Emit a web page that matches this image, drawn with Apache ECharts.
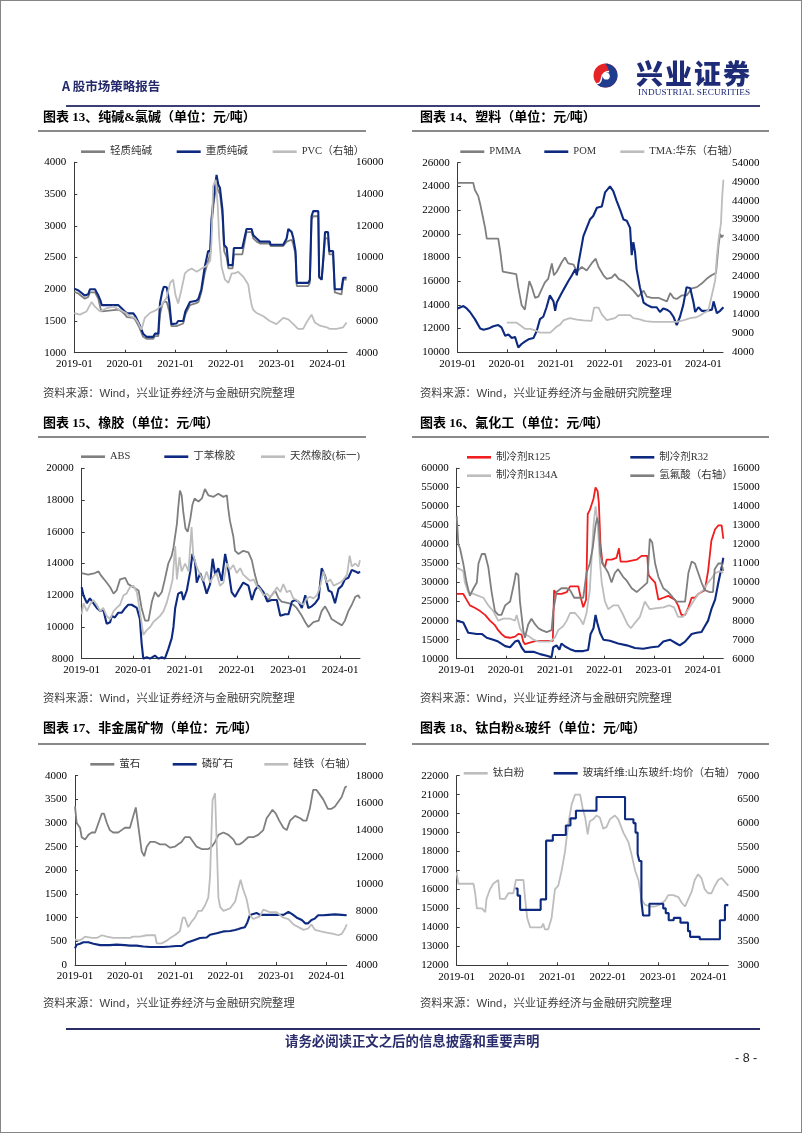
<!DOCTYPE html>
<html><head><meta charset="utf-8">
<script src="https://cdn.jsdelivr.net/npm/echarts@6/dist/echarts.min.js"></script>
<style>
html,body{margin:0;padding:0;background:#fff;}
#page{position:relative;width:802px;height:1133px;overflow:hidden;background:#fff;}
#chart{position:absolute;left:0;top:0;width:802px;height:1133px;}
#frame{position:absolute;left:0;top:0;width:800px;height:1131px;border:1px solid #858585;pointer-events:none;}
.t{position:absolute;white-space:nowrap;line-height:1;}
.title{font-family:"Liberation Serif","Noto Sans CJK SC",serif;font-weight:bold;font-size:13px;color:#000;}
.src{font-family:"Liberation Sans","Noto Sans CJK SC",sans-serif;font-size:11.3px;color:#404040;}
.rule{position:absolute;height:0;border-top:2px solid #8a8a8a;}
</style></head>
<body><div id="page">
<div id="chart"></div>
<div id="frame"></div>
<div class="t" style="left:62px;top:80px;font-family:'Noto Sans CJK SC';font-weight:bold;font-size:12.5px;color:#23296b;">A 股市场策略报告</div>
<svg style="position:absolute;left:593px;top:63px" width="25" height="25" viewBox="0 0 24 24">
 <circle cx="12" cy="12" r="11.5" fill="#e42427"/>
 <path d="M12 0.5 A11.5 11.5 0 0 1 12 23.5 A11.5 11.5 0 0 1 3.5 19.8 Q7.5 20 8.2 14.5 Q9 8.5 15.5 8.2 Q14 3.5 12 0.5 Z" fill="#1f3c8f"/>
 <path d="M3.5 19.8 Q7.5 20 8.2 14.5 Q9 8.5 15.5 8.2" fill="none" stroke="#fff" stroke-width="1.3"/>
 <circle cx="12.8" cy="12.6" r="3.3" fill="#fff"/>
</svg>
<div class="t" style="left:636px;top:59px;font-family:'Noto Sans CJK SC';font-weight:900;font-size:27px;letter-spacing:2px;color:#1e2b76;">兴业证券</div>
<div class="t" style="left:638px;top:87.5px;font-family:'Liberation Serif';font-size:9.2px;letter-spacing:0.15px;color:#1e2b76;">INDUSTRIAL SECURITIES</div>
<div class="rule" style="left:66px;top:105px;width:694px;border-top:2px solid #3c3f74;"></div>

<div class="t title" style="left:43px;top:110px;">图表 13、纯碱&amp;氯碱（单位：元/吨）</div>
<div class="t title" style="left:420px;top:110px;">图表 14、塑料（单位：元/吨）</div>
<div class="rule" style="left:38px;top:130px;width:328px;"></div>
<div class="rule" style="left:412px;top:130px;width:357px;"></div>
<div class="t src" style="left:43px;top:388px;">资料来源：Wind，兴业证券经济与金融研究院整理</div>
<div class="t src" style="left:420px;top:388px;">资料来源：Wind，兴业证券经济与金融研究院整理</div>

<div class="t title" style="left:43px;top:416px;">图表 15、橡胶（单位：元/吨）</div>
<div class="t title" style="left:420px;top:416px;">图表 16、氟化工（单位：元/吨）</div>
<div class="rule" style="left:38px;top:436px;width:328px;"></div>
<div class="rule" style="left:412px;top:436px;width:357px;"></div>
<div class="t src" style="left:43px;top:693px;">资料来源：Wind，兴业证券经济与金融研究院整理</div>
<div class="t src" style="left:420px;top:693px;">资料来源：Wind，兴业证券经济与金融研究院整理</div>

<div class="t title" style="left:43px;top:721px;">图表 17、非金属矿物（单位：元/吨）</div>
<div class="t title" style="left:420px;top:721px;">图表 18、钛白粉&amp;玻纤（单位：元/吨）</div>
<div class="rule" style="left:38px;top:743px;width:328px;"></div>
<div class="rule" style="left:412px;top:743px;width:357px;"></div>
<div class="t src" style="left:43px;top:998px;">资料来源：Wind，兴业证券经济与金融研究院整理</div>
<div class="t src" style="left:420px;top:998px;">资料来源：Wind，兴业证券经济与金融研究院整理</div>

<div class="rule" style="left:66px;top:1028px;width:694px;border-top:2px solid #2a2d66;"></div>
<div class="t" style="left:285px;top:1034px;font-family:'Noto Sans CJK SC';font-weight:bold;font-size:13.4px;color:#2b2e6c;">请务必阅读正文之后的信息披露和重要声明</div>
<div class="t" style="left:735px;top:1052px;font-family:'Liberation Sans Narrow','Liberation Sans';font-size:12.5px;color:#222;">- 8 -</div>
</div>
<script>
// ---- data: [months since 2019-01, value] ----
const xTickValues = [0,12,24,36,48,60];
const sodaLight = [[0,1960],[1,1930],[2.5,1850],[3.3,1880],[3.7,1950],[4.9,1950],[5.3,1900],[5.7,1850],[6.2,1700],[6.5,1650],[10.4,1680],[11.2,1650],[12,1600],[12.5,1560],[14,1550],[14.6,1500],[15.4,1400],[16,1300],[16.3,1250],[17.1,1220],[18.7,1220],[19.1,1260],[19.9,1260],[20.3,1600],[20.8,1750],[21.2,1800],[21.9,1800],[22.5,1650],[23,1420],[24.2,1420],[24.6,1450],[25.8,1460],[26.3,1600],[27.4,1750],[28.9,1780],[29.4,1800],[30.1,1950],[30.9,2250],[31.7,2450],[32.2,2550],[32.5,3000],[33.1,3400],[33.7,3650],[34.1,3550],[34.5,3500],[35.1,3150],[35.5,2600],[36.1,2500],[36.5,2330],[37.5,2330],[37.8,2550],[39.8,2550],[40.8,2900],[42,2900],[42.4,2800],[43.2,2750],[44,2720],[46.3,2720],[46.5,2680],[49.5,2680],[50.3,2750],[50.7,2750],[51.5,2780],[51.9,2700],[52.4,2550],[52.7,2050],[55.4,2050],[55.8,2100],[56.2,3100],[56.6,3150],[57.8,3150],[58,2180],[58.6,2150],[59,2450],[59.4,2800],[60.1,2800],[60.4,2550],[61.3,2550],[61.7,1950],[63.3,1920],[63.7,2150],[64.5,2150]];
const sodaHeavy = [[0,2010],[1,1980],[2.5,1900],[3.3,1920],[3.7,2000],[4.9,2000],[5.3,1950],[5.7,1900],[6.2,1820],[6.5,1750],[10.4,1750],[11.2,1700],[12,1650],[12.5,1620],[14,1620],[14.6,1560],[15.4,1450],[16,1350],[16.3,1300],[17.1,1250],[18.7,1250],[19.1,1300],[19.9,1300],[20.3,1780],[20.8,1950],[21.2,2040],[21.9,2030],[22.5,1800],[23,1450],[24.2,1460],[24.6,1500],[25.8,1500],[26.3,1650],[27.4,1800],[28.9,1820],[29.4,1850],[30.1,2000],[30.9,2350],[31.7,2600],[32.2,2600],[32.5,3100],[33.1,3500],[33.7,3800],[34.1,3650],[34.5,3600],[35.1,3250],[35.5,2700],[36.1,2650],[36.5,2380],[37.5,2380],[37.8,2650],[39.8,2650],[40.8,2950],[42,2950],[42.4,2850],[43.2,2800],[44,2750],[46.3,2750],[46.5,2700],[49.5,2700],[50.3,2800],[50.7,2950],[51.5,2900],[51.9,2800],[52.4,2600],[52.7,2100],[55.4,2100],[55.8,2150],[56.2,3150],[56.6,3230],[57.8,3230],[58,2200],[58.6,2150],[59,2500],[59.4,2900],[60.1,2900],[60.4,2600],[61.3,2600],[61.7,2000],[63.3,2000],[63.7,2180],[64.5,2180]];
const pvc = [[0,6500],[1.3,6400],[2.9,6600],[3.7,7000],[4.1,7200],[4.9,6900],[6.1,6600],[7.6,6800],[9.2,6900],[10.8,6700],[12.3,6500],[13.1,6300],[14.3,6200],[15.1,5900],[15.9,5450],[16.7,6200],[17.9,6500],[19.5,6700],[20.7,7000],[21.9,7500],[22.7,8400],[23.4,8600],[24,7600],[24.6,7100],[25.4,8000],[26.2,9000],[27,9200],[27.8,9300],[29,9100],[30.2,9300],[31.4,9500],[32.2,9800],[32.5,11000],[32.9,14500],[33.5,14900],[34,13200],[34.3,11300],[34.9,9400],[35.7,8600],[36.5,8400],[37.3,9000],[38,9000],[38.8,9100],[40,8800],[41.2,8300],[41.6,7600],[42,7000],[42.4,6700],[43.2,6500],[44.8,6300],[46.3,6000],[47.9,5800],[49.5,6200],[50.7,6100],[51.9,5800],[53,5500],[54.2,5500],[55,5900],[56.2,6400],[57,5900],[58.2,5700],[59.8,5600],[60.5,5500],[62.1,5500],[63.7,5600],[64.5,5900]];

const pmma = [[0,24300],[3.8,24300],[4.2,23700],[5,23200],[5.5,22500],[6.1,21500],[6.7,20500],[7.1,19600],[9.9,19600],[10.4,18500],[11,16800],[14.3,16600],[14.8,15500],[15.6,14000],[16.4,13600],[16.8,14500],[17.5,16000],[18.1,15500],[18.9,14600],[19.7,14700],[20.5,15300],[21.3,15900],[22.1,16200],[23,17500],[23.5,16500],[24.2,16800],[25.4,17600],[26.2,18000],[27,17500],[28.3,17400],[29.1,16800],[30.3,17200],[31.5,16900],[32.7,17500],[33.7,17900],[34.4,17200],[35.6,16500],[36.4,16200],[37.6,16300],[38.4,16600],[39.3,16200],[40.5,16000],[41.7,15600],[42.9,15200],[44.1,14700],[45.4,15200],[46.2,14700],[47.4,14600],[49,14600],[51.1,14300],[51.9,15000],[52.7,14600],[53.5,14500],[54.7,14800],[55.9,14800],[57.2,15400],[58.4,15500],[59.6,15800],[60.8,16200],[62,16500],[63.1,16700],[63.7,19000],[64.1,20000],[64.5,19700],[64.9,19900]];
const pom = [[0,13700],[1.4,13900],[2.2,13700],[3,13400],[4.2,12800],[5.5,12000],[6.3,11900],[7.5,12000],[8.7,12200],[9.9,12300],[10.7,12100],[11.6,11400],[12.4,11500],[13.2,11200],[14,11300],[14.8,10400],[15.6,10700],[16.4,10900],[17.3,11100],[18.5,11200],[19.3,11800],[20.1,12800],[20.9,13000],[21.7,13800],[22.5,14800],[23.4,14300],[23.8,13500],[24.2,14200],[25.4,15000],[26.2,15500],[27,16000],[27.9,16500],[28.7,17000],[29.1,16500],[29.5,17500],[30.7,19800],[31.5,20500],[32.3,21200],[33.1,21500],[34,22200],[35.2,22300],[36,23500],[37.2,24000],[38,23600],[38.8,22800],[39.7,22000],[40.5,21200],[41.3,21100],[42.1,20500],[42.5,18200],[42.9,19300],[43.3,18500],[43.7,17000],[44.5,15500],[45.4,14200],[46.2,14000],[47.4,13800],[48.6,13800],[49.4,13400],[50.2,13700],[51.1,13600],[51.9,13400],[52.7,13000],[53.5,12300],[54.3,13000],[55.1,14000],[55.9,15500],[56.8,15400],[57.6,14200],[58,13400],[58.8,13800],[59.6,13500],[60.8,13500],[62.1,13600],[62.5,14300],[62.9,13800],[63.3,13300],[64.1,13500],[64.9,13800]];
const tma = [[12,11800],[14.4,11800],[15.2,11200],[16.4,10200],[17.7,10200],[18.9,9800],[20.1,9200],[22.6,9200],[23.4,10000],[24.2,10800],[25,11300],[25.8,12400],[27.4,13000],[29.1,12600],[30.7,12400],[32.7,12300],[33.3,15800],[34.4,15800],[35.2,14000],[36.4,12500],[37.2,12700],[38.4,13000],[39.3,13800],[42.1,13800],[42.9,13000],[44.5,12700],[45.8,12200],[47.8,12000],[51.1,12000],[53.5,12000],[55.1,12400],[56.8,13000],[58.4,13300],[59.2,13700],[60,14300],[61.2,15000],[62,18700],[62.9,23000],[63.3,29200],[63.7,33600],[64.3,38000],[64.6,45000],[64.9,49500]];

const abs = [[0,13400],[1.5,13300],[3.1,13400],[3.9,13500],[4.6,13200],[5.8,12800],[6.6,12500],[7.4,12100],[8.1,12300],[8.9,13000],[10.1,13100],[10.8,12700],[12,12500],[13.2,12300],[13.9,11200],[14.7,10400],[15.5,10400],[16.3,11600],[17,12200],[17.8,11900],[18.6,12200],[19.3,13000],[20.1,14000],[20.9,14500],[21.3,15000],[22.1,16500],[22.4,17500],[22.8,18600],[23.2,18300],[23.6,17200],[24.1,16200],[24.6,16000],[25.2,16800],[25.7,17700],[26.2,18100],[27.1,17900],[27.9,18100],[28.6,18700],[29.4,18300],[30.6,18200],[31.7,18400],[32.9,18200],[33.7,18300],[34,17500],[34.4,16700],[35.2,15700],[35.6,14800],[36.4,14600],[37.5,14800],[38.7,14700],[39.5,14200],[40.2,13300],[41,12500],[42.2,12100],[43.3,11700],[44.9,12300],[45.7,11800],[46.4,11600],[48,11500],[49.1,11400],[49.9,11200],[51.1,10700],[51.9,10300],[52.6,10000],[53.8,10300],[55,10400],[55.7,11000],[56.5,11300],[57.3,10900],[58,10500],[59.2,10300],[60.4,10100],[61.1,10400],[61.9,11000],[62.7,11400],[63.5,11900],[64.2,12000],[64.6,11800]];
const sbr = [[0,12500],[0.4,12000],[1.2,11500],[1.9,11800],[2.7,11500],[3.5,11200],[4.3,11000],[5,11100],[5.8,10200],[6.6,10300],[7,10700],[7.7,10600],[8.5,10900],[9.3,10900],[10.1,11200],[10.8,11400],[11.6,11400],[12.8,11200],[13.5,10500],[13.9,9000],[14.3,8000],[15.1,8100],[15.9,8000],[17,8200],[17.8,8000],[18.6,8100],[19.3,8000],[20.1,8600],[20.9,9300],[21.3,10000],[21.7,11200],[22.4,12100],[23.2,12200],[23.6,11700],[24.4,12300],[25.2,13500],[25.7,14600],[26.3,14100],[26.7,12800],[27.5,13400],[28.3,12800],[29,12100],[29.8,12700],[30.4,14300],[31,13300],[31.7,13700],[32.5,12900],[33.3,14600],[34.1,13500],[34.8,12200],[35.6,11900],[36.4,12300],[37.5,12800],[38.7,12600],[39.5,11700],[40.2,12300],[41,12600],[42.2,12200],[43.1,11600],[44.1,11700],[45.3,11700],[46.1,10700],[47.2,10800],[48,10800],[48.8,11600],[49.5,11700],[50.3,11600],[51.1,11200],[51.9,12000],[52.6,11200],[53.4,11300],[54.2,11500],[55,11800],[55.7,13700],[56.5,13200],[57.3,12300],[58,12200],[58.8,11500],[59.6,12400],[60.4,12600],[61.1,13000],[61.9,13100],[62.7,13600],[63.5,13500],[64.2,13400],[64.6,13500]];
const naturalRubber = [[0,10800],[0.4,11500],[1.2,11000],[1.9,11400],[2.7,11700],[3.5,11400],[4.3,11000],[5,11200],[5.8,10700],[6.6,10500],[7.4,11000],[8.1,11200],[8.9,11400],[9.7,12000],[10.4,12100],[11.2,12500],[12,12600],[12.8,12200],[13.5,11000],[14.3,9500],[15.1,9800],[15.9,10000],[16.6,10300],[17.4,10500],[18.2,10700],[19,11000],[19.7,11500],[20.5,12300],[21.1,13000],[21.7,15100],[22.1,13000],[22.7,14400],[23.2,13500],[24,14000],[24.8,13500],[25.5,16300],[25.9,14500],[26.7,13800],[27.5,13300],[28.3,12900],[29,13500],[29.8,12800],[30.6,13200],[31.3,13400],[32.1,12600],[32.9,12800],[33.7,14000],[34.4,13600],[35.2,13900],[36,13400],[36.8,13700],[37.5,13300],[38.3,13100],[39.1,12900],[39.9,13000],[40.6,12600],[41.4,12400],[42.2,12000],[43,12100],[43.7,11900],[44.5,12100],[45.3,12500],[46.1,12200],[46.8,12700],[47.6,12200],[48.4,12300],[49.1,11800],[49.9,11700],[50.7,11500],[51.5,11400],[52.2,11800],[53,11900],[53.8,11800],[54.6,12000],[55.3,12500],[56.1,13500],[56.9,12800],[57.7,13000],[58.5,12600],[59.2,12700],[60,12800],[60.8,13000],[61.6,13300],[62.2,14500],[62.7,13800],[63.5,14000],[64.2,13800],[64.6,14200]];

const r125 = [[0,27000],[1.6,27000],[2.4,25500],[3.2,24000],[4.5,23300],[5.7,22500],[6.9,21500],[8.1,20000],[9.3,18800],[10.1,17500],[10.9,16500],[11.8,15700],[13,15500],[14.2,15800],[15,16500],[15.8,16300],[16.2,14500],[16.6,13800],[17.8,14200],[19.1,14600],[20.7,14700],[22.3,14700],[23.4,14700],[23.7,28000],[24.3,27000],[25.5,27000],[26.8,27500],[27.6,29000],[29.6,29000],[30.2,26000],[30.8,23500],[31.5,25500],[31.9,48000],[32.4,49000],[33.3,52000],[33.8,55000],[34.3,54000],[34.6,51000],[35,40000],[35.5,35000],[36.1,34000],[36.5,36000],[37.7,36000],[38.9,36500],[39.5,39000],[39.9,35500],[41.4,35500],[43.8,36000],[45,37000],[46.4,37000],[46.7,32000],[47.4,31000],[48.3,30000],[49.1,25500],[50.3,26000],[51.5,26500],[53.1,25500],[53.9,24000],[54.7,21500],[55.6,21500],[56.4,23500],[57.2,26000],[58,26000],[58.8,27000],[59.6,27500],[60.4,28000],[61.2,33000],[62,41000],[62.9,44000],[63.7,45000],[64.5,45000],[64.9,41500]];
const r32 = [[0,20000],[1.6,19500],[2.8,16800],[4.9,16500],[6.1,16500],[7.3,15500],[8.9,15000],[10.1,14500],[11.8,13300],[13,13000],[14.2,14500],[15,14800],[15.8,13000],[16.6,11800],[18.7,11800],[20.3,11200],[21.9,10800],[23.1,10400],[23.5,13000],[24.3,13500],[25,12400],[25.5,14000],[26.4,13200],[27.6,12500],[28.8,12000],[30.8,12000],[32,12300],[32.6,16500],[33.3,18000],[33.8,21500],[34.2,19500],[34.9,16800],[35.7,15000],[37.3,14700],[39.3,14000],[41.4,13500],[43.4,12800],[45.4,12600],[47.4,13000],[49.1,13200],[50.3,14500],[51.9,15000],[53.5,14000],[54.3,13500],[55.6,14500],[57.2,16500],[58.4,16800],[59.6,17000],[60.4,18500],[61.2,20000],[62,23000],[62.9,25500],[63.7,30000],[64.5,34000],[64.9,36500]];
const r134a = [[0,33800],[0.8,33500],[1.6,33000],[2,30000],[2.8,27500],[4.1,27000],[5.3,26500],[6.5,26000],[7.7,24000],[8.9,22500],[10.1,20000],[11.4,20500],[13,20500],[14.2,20000],[14.6,21500],[15.4,18000],[16.2,16500],[17.4,16000],[18.7,15000],[19.9,14500],[21.1,14500],[22.7,14500],[23.9,15500],[24.7,17500],[25.9,18500],[26.8,20000],[27.6,22000],[28.8,22000],[30,20500],[30.8,19000],[31.6,22000],[32.4,28000],[33.3,45000],[33.8,50000],[34.3,46000],[34.9,35000],[35.3,30000],[36.1,25000],[36.9,23000],[38.1,24000],[39.3,24000],[40.3,22000],[41.6,19000],[42.4,18000],[43.1,19000],[44.6,21000],[45.8,25000],[47,23000],[48.7,23300],[50.3,23500],[51.7,24000],[52.9,23500],[53.9,21000],[55.1,21000],[56.4,23000],[57.6,25000],[58.8,27000],[60,28000],[61.2,30000],[62,31000],[62.9,32500],[64.1,33000],[64.9,32500]];
const hf = [[0,13500],[0.4,12000],[0.8,11800],[1.6,11000],[2.4,10000],[3.2,9300],[4.1,9700],[4.9,10000],[5.3,11000],[6.1,11500],[6.9,11500],[7.7,10800],[8.5,9500],[9.3,8500],[10.1,8300],[10.9,8300],[11.8,8800],[13,9000],[14,10000],[14.4,10500],[15,10400],[15.4,9000],[16.2,7500],[16.6,7100],[17.4,7800],[18.2,8100],[19.1,7800],[19.9,7600],[20.7,7500],[21.9,7400],[23.1,7500],[23.5,8500],[24.3,9500],[25.5,9700],[26.8,9700],[27.6,9600],[28.6,9200],[30,9200],[30.8,9200],[31.6,10500],[32.4,11000],[33.1,11800],[33.8,13000],[34.2,13400],[34.6,13000],[35,11500],[35.5,11000],[36.1,10800],[36.9,10500],[37.7,10000],[38.5,10500],[39.3,10700],[40.5,10300],[41.4,10100],[42.6,9700],[43.8,9500],[45.4,9800],[46.4,10000],[47,12300],[47.6,12100],[48.3,11000],[49.1,10300],[50.3,9700],[51.5,9500],[52.7,9200],[53.5,9000],[55.6,9000],[56.4,10500],[57.2,11100],[58,11000],[58.8,10500],[59.6,10000],[60.4,9600],[61.6,9500],[62.4,9500],[62.8,10700],[63.7,11000],[64.5,11000],[64.9,10600]];

const fluorite = [[0,3350],[0.4,3000],[1.2,2900],[1.6,2700],[2.4,2650],[3.2,2750],[4,2800],[4.8,2800],[5.6,3000],[6.4,3200],[6.9,3200],[7.6,3000],[8.3,2850],[9.1,2800],[10.3,2800],[11.1,2850],[11.9,2900],[13.1,2900],[13.9,3150],[14.5,3330],[14.8,3300],[15.3,2800],[15.9,2400],[16.5,2300],[17.1,2500],[17.9,2600],[19.1,2600],[20.3,2550],[21.5,2550],[22.7,2480],[23.8,2500],[24.6,2550],[25.4,2600],[26.2,2700],[27.4,2700],[28.2,2600],[29,2500],[30.2,2450],[31.8,2450],[32.6,2500],[33.4,2600],[34.2,2750],[35.4,2800],[36.6,2750],[37.8,2650],[38.4,2550],[39.3,2550],[40.1,2600],[41.3,2700],[42.5,2700],[43.7,2750],[44.9,2850],[45.7,3100],[46.5,3200],[47.1,3280],[47.9,3200],[48.7,3050],[49.7,2900],[50.5,2850],[51.3,3050],[52.5,3150],[53.7,3100],[54.5,3050],[55.2,3050],[56,3300],[56.8,3700],[57.6,3700],[58.4,3600],[59.2,3500],[60.3,3300],[61.2,3300],[62,3350],[62.8,3450],[63.6,3550],[64.4,3750],[64.8,3780]];
const phosphate = [[0,350],[0.4,430],[1.2,450],[2,480],[3.2,480],[4.4,450],[6,420],[8.3,420],[9.9,430],[11.9,420],[13.1,410],[14.7,410],[16.3,390],[17.9,380],[19.5,380],[21.1,380],[22.7,390],[24.2,400],[25.4,400],[26.6,470],[28.2,520],[29.8,570],[31.4,580],[32.2,640],[33.8,670],[35.4,710],[37,720],[38.2,740],[39,760],[39.7,780],[40.5,800],[41.1,900],[41.7,1050],[42.5,1080],[43.3,1100],[44.1,1060],[44.9,1060],[46.5,1060],[48.1,1060],[49.7,1060],[50.9,1120],[51.7,1080],[52.9,1000],[54.1,950],[54.9,880],[55.6,880],[56.4,950],[57.2,980],[58,1050],[59.2,1050],[60.4,1060],[62,1070],[63.6,1060],[64.8,1050]];
const ferrosilicon = [[0,5900],[0.8,5800],[1.6,5900],[2.4,6100],[4,6000],[5.2,6000],[6.4,6200],[7.6,6100],[9.1,6000],[11.5,6000],[13.1,6000],[13.9,6100],[15.5,6100],[17.1,6200],[19.1,6200],[19.5,5600],[20.7,5600],[21.9,5800],[22.7,6000],[23.8,6200],[25,6500],[25.7,7500],[26.2,7500],[27,6800],[27.8,7200],[28.6,7500],[29.4,8000],[30.2,8000],[31,8400],[31.8,9000],[32.2,10500],[32.8,16200],[33.4,16700],[33.8,13000],[34.2,9000],[34.6,8300],[35.4,8000],[36.2,8100],[37,8200],[37.4,8200],[38.2,8700],[38.9,9600],[39.5,10300],[40.1,9600],[40.9,8900],[41.7,7700],[42.5,7400],[43.3,7500],[44.1,7600],[44.9,8100],[45.7,8000],[46.5,7900],[48.1,7900],[49.7,7500],[50.9,7400],[52.1,7000],[53.3,6800],[54.5,6600],[55.6,6700],[56.4,7000],[57.2,6600],[58.4,6500],[60,6400],[61.6,6300],[62.8,6200],[63.6,6300],[64.4,6700],[64.8,7000]];

const tio2 = [[0,16900],[0.4,16300],[1.6,16300],[4,16300],[4.4,15800],[4.8,15000],[6,15000],[6.8,14800],[7.1,15500],[7.9,16000],[8.7,16300],[9.9,16500],[10.3,15500],[11.5,15500],[12.3,15800],[13.5,15800],[14.1,16500],[15.9,16500],[16.3,15500],[16.8,14500],[17.5,14000],[19,14000],[20.2,14000],[20.6,14200],[21,13900],[21.8,13900],[22.6,14500],[23.4,16000],[24.2,16200],[25,17000],[25.8,18000],[26.6,19500],[27.4,20500],[28.2,21000],[29.4,21000],[30,20300],[30.6,19800],[31.2,18900],[31.7,19600],[32.5,19700],[33.3,19900],[34.1,19800],[34.9,19200],[35.7,19300],[36.5,19700],[37.7,19900],[38.5,19700],[39.7,19000],[40.9,18500],[41.7,17800],[42.5,17000],[43.3,16500],[44,15500],[44.8,15200],[46,15100],[47.2,15100],[48.4,15200],[49.6,15400],[50.4,15700],[51.6,15700],[52.8,15600],[53.6,15300],[54.4,15100],[55.2,15500],[56,15900],[56.7,16500],[57.5,16800],[58.3,16600],[59.1,16000],[59.9,15800],[60.7,15800],[61.5,16200],[62.3,16500],[63.1,16600],[63.9,16400],[64.7,16200]];
const glassFiber = [[14,4620],[14.5,4470],[15.1,4170],[20,4390],[21.3,5630],[22.9,5750],[26,5950],[27.1,6100],[28.4,6260],[33.3,6550],[40.1,6080],[42.1,6000],[42.6,5800],[43.1,5350],[43.5,5200],[44,4350],[44.4,4050],[45.9,4300],[49.2,4200],[49.8,4100],[50.5,3950],[51.7,4000],[53.3,3900],[55.1,3720],[55.6,3600],[57.9,3550],[62.7,3950],[63.9,4270],[64.7,4270]];

// ---- styling ----
const NAVY = '#0d2a80', GRAY = '#7f7f7f', LIGHT = '#bdbdbd', RED = '#f01e1e';
const NUMFONT = 'Liberation Serif';
const LEGFONT = '"Liberation Serif","Noto Sans CJK SC"';

const charts = [
 {grid:[74.3,162.3,272.7,190.4], xmax:64.6, left:[1000,4000,500], right:[4000,16000,2000],
  series:[['轻质纯碱',sodaLight,GRAY,0],['重质纯碱',sodaHeavy,NAVY,0],['PVC（右轴）',pvc,LIGHT,1]],
  legends:[[110,151.7],[205.7,151.7],[301.7,151.7]]},
 {grid:[457.7,162.7,265.3,189.6], xmax:64.8, left:[10000,26000,2000], right:[4000,54000,5000],
  series:[['PMMA',pmma,GRAY,0],['POM',pom,NAVY,0],['TMA:华东（右轴）',tma,LIGHT,1]],
  legends:[[489.3,151.7],[573.3,151.7],[649.3,151.7]]},
 {grid:[81.7,468.3,278.3,190.4], xmax:64.6, left:[8000,20000,2000], right:null,
  series:[['ABS',abs,GRAY,0],['丁苯橡胶',sbr,NAVY,0],['天然橡胶(标一)',naturalRubber,LIGHT,0]],
  legends:[[110,456.7],[193.3,456.7],[290,456.7]]},
 {grid:[456.7,468.3,266.6,190.4], xmax:64.9, left:[10000,60000,5000], right:[6000,16000,1000],
  series:[['制冷剂R125',r125,RED,0],['制冷剂R32',r32,NAVY,0],['制冷剂R134A',r134a,LIGHT,0],['氢氟酸（右轴）',hf,GRAY,1]],
  legends:[[496,457.3],[659.3,457.3],[496,475.7],[659.3,475.7]]},
 {grid:[75,775.7,271.7,189.3], xmax:64.8, left:[0,4000,500], right:[4000,18000,2000],
  series:[['萤石',fluorite,GRAY,0],['磷矿石',phosphate,NAVY,0],['硅铁（右轴）',ferrosilicon,LIGHT,1]],
  legends:[[119.3,764.3],[201.7,764.3],[293.3,764.3]]},
 {grid:[456.7,775.7,271.6,189.6], xmax:64.7, left:[12000,22000,1000], right:[3000,7000,500],
  series:[['钛白粉',tio2,LIGHT,0],['玻璃纤维:山东玻纤:均价（右轴）',glassFiber,NAVY,1,'end']],
  legends:[[492.7,773.3],[582.7,773.3]]}
];

const plain = v => String(v);
const option = {animation:false, grid:[], xAxis:[], yAxis:[], series:[], legend:[]};
charts.forEach((c, gi) => {
  option.grid.push({left:c.grid[0], top:c.grid[1], width:c.grid[2], height:c.grid[3], containLabel:false});
  option.xAxis.push({type:'value', gridIndex:gi, min:0, max:c.xmax,
    axisLine:{show:true, onZero:false, lineStyle:{color:'#3a3a3a', width:1}},
    axisTick:{show:true, inside:true, length:3, customValues:xTickValues, lineStyle:{color:'#3a3a3a'}},
    axisLabel:{customValues:xTickValues, formatter:v => (2019 + Math.round(v/12)) + '-01',
      fontFamily:NUMFONT, fontSize:11, color:'#000', margin:6},
    splitLine:{show:false}});
  const xi = option.xAxis.length - 1;
  const yl = option.yAxis.length;
  option.yAxis.push({type:'value', gridIndex:gi, position:'left', min:c.left[0], max:c.left[1], interval:c.left[2],
    axisLine:{show:true, onZero:false, lineStyle:{color:'#3a3a3a', width:1}},
    axisTick:{show:true, inside:true, length:3, lineStyle:{color:'#3a3a3a'}},
    axisLabel:{formatter:plain, fontFamily:NUMFONT, fontSize:11, color:'#000', margin:8},
    splitLine:{show:false}});
  let yr = null;
  if (c.right) {
    yr = option.yAxis.length;
    option.yAxis.push({type:'value', gridIndex:gi, position:'right', min:c.right[0], max:c.right[1], interval:c.right[2],
      axisLine:{show:false}, axisTick:{show:false},
      axisLabel:{formatter:plain, fontFamily:NUMFONT, fontSize:11, color:'#000', margin:9},
      splitLine:{show:false}});
  }
  c.series.forEach((s, k) => {
    const navy = s[2] === NAVY;
    option.series.push({type:'line', name:s[0], xAxisIndex:xi, yAxisIndex: s[3] === 1 ? yr : yl,
      data:s[1], symbol:'none', showSymbol:false, step: s[4] || false, color:s[2],
      itemStyle:{color:s[2]}, lineStyle:{color:s[2], width: navy ? 2.1 : 1.8}, z:2});
    const lg = c.legends[k];
    option.legend.push({data:[s[0]], left:lg[0]-29, top:lg[1]-7, orient:'horizontal', padding:0, itemGap:0,
      itemWidth:24, itemHeight:2.6, icon:'rect', selectedMode:false,
      textStyle:{fontFamily:LEGFONT, fontSize:10.5, lineHeight:14, color:'#333'}});
  });
});

const chart = echarts.init(document.getElementById('chart'), null, {renderer:'canvas'});
chart.setOption(option);
</script>
</body></html>
